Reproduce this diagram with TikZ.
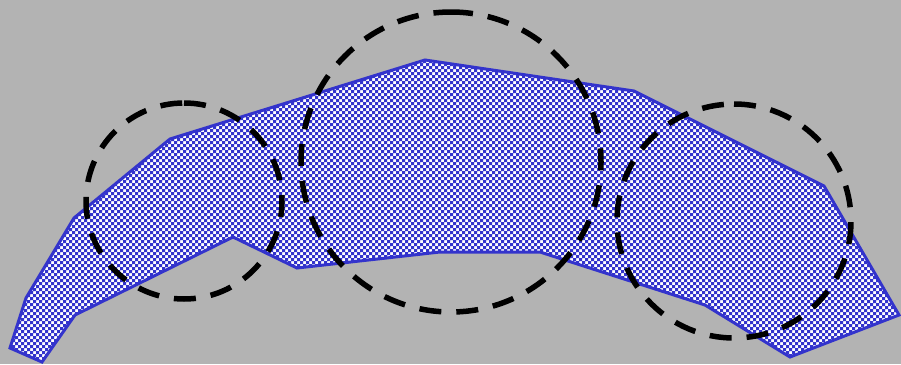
\documentclass[tikz,border=0pt]{standalone}
\definecolor{bgray}{RGB}{179,179,179}
\definecolor{pblue}{RGB}{51,51,204}
\tikzset{
  region/.style={draw=pblue, line width=3pt, line join=miter},
  checks/.style={fill=pblue, even odd rule},
  ring/.style={draw=black, line width=5.5pt, dash pattern=on 22pt off 15pt}
}
\begin{document}
\begin{tikzpicture}[x=1pt,y=-1pt]
\fill[bgray] (0,0) rectangle (901,364);
\useasboundingbox (0,0) rectangle (901,364);
\def\shape{(42,362) -- (10,348) -- (26,298) -- (74,218) -- (170,139) -- (425,60) -- (634,91) -- (824,186) -- (899,315) -- (790,357) -- (705,305) -- (540,252) -- (440,252) -- (297,268) -- (233,237) -- (75,315) -- cycle}
\fill[white] \shape;
\begin{scope}
\clip \shape;
\path[checks]
  \foreach \y in {0,6,...,366} { (0,\y) rectangle (904,\y+3) }
  \foreach \x in {0,6,...,906} { (\x,0) rectangle (\x+3,368) };
\end{scope}
\draw[region] \shape;
\draw[ring] (184,103) arc[start angle=-90, end angle=270, radius=98];
\draw[ring] (451,12) arc[start angle=-90, end angle=270, radius=150];
\draw[ring] (734,104) arc[start angle=-90, end angle=270, radius=117];
\end{tikzpicture}
\end{document}
